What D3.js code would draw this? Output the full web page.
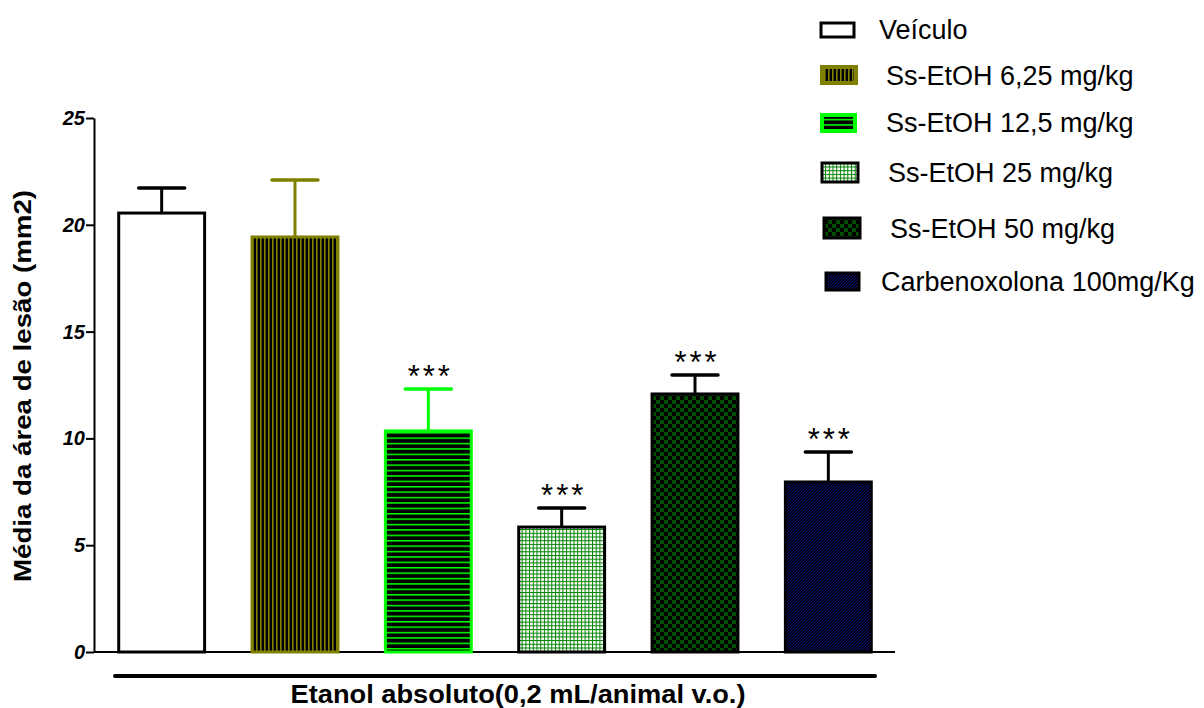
<!DOCTYPE html>
<html>
<head>
<meta charset="utf-8">
<script src="https://cdn.jsdelivr.net/npm/d3@7"></script>
<style>
  html, body { margin: 0; padding: 0; background: #fff; }
  svg { display: block; font-family: "Liberation Sans", Arial, Helvetica, sans-serif; }
</style>
</head>
<body>
<svg id="chart" width="1204" height="708"></svg>
<script>
// Groups, means and SEM of the lesion area (mm2)
const groups = ["Veículo", "Ss-EtOH 6,25 mg/kg", "Ss-EtOH 12,5 mg/kg", "Ss-EtOH 25 mg/kg", "Ss-EtOH 50 mg/kg", "Carbenoxolona 100mg/Kg"];
const means = [20.55, 19.43, 10.35, 5.85, 12.08, 7.96];
const sem = [1.17, 2.67, 1.96, 0.89, 0.89, 1.40];
const significance = ["", "", "***", "***", "***", "***"];
const yTicks = [0, 5, 10, 15, 20, 25];

// Visual style for each group: fill pattern id and outline colour
const fills = ["#ffffff", "url(#p625)", "url(#p125)", "url(#p25)", "url(#p50)", "url(#p100)"];
const strokes = ["#000000", "#808000", "#00ff00", "#000000", "#000000", "#000000"];

const svg = d3.select("#chart");
const defs = svg.append("defs");

// vertical olive stripes on black
const p1 = defs.append("pattern").attr("id", "p625").attr("patternUnits", "userSpaceOnUse")
  .attr("width", 4).attr("height", 4);
p1.append("rect").attr("width", 4).attr("height", 4).attr("fill", "#000");
p1.append("rect").attr("x", 0).attr("width", 1.6).attr("height", 4).attr("fill", "#808000");

// horizontal bright-green lines on black
const p2 = defs.append("pattern").attr("id", "p125").attr("patternUnits", "userSpaceOnUse")
  .attr("width", 6).attr("height", 5.4);
p2.append("rect").attr("width", 6).attr("height", 5.4).attr("fill", "#000");
p2.append("rect").attr("y", 0).attr("width", 6).attr("height", 1.5).attr("fill", "#00ff00");

// green grid on white
const p3 = defs.append("pattern").attr("id", "p25").attr("patternUnits", "userSpaceOnUse")
  .attr("width", 3.7).attr("height", 3.7);
p3.append("rect").attr("width", 3.7).attr("height", 3.7).attr("fill", "#fff");
p3.append("rect").attr("width", 3.7).attr("height", 1).attr("fill", "#008000");
p3.append("rect").attr("width", 1).attr("height", 3.7).attr("fill", "#008000");

// dark-green checkerboard on black
const p4 = defs.append("pattern").attr("id", "p50").attr("patternUnits", "userSpaceOnUse")
  .attr("width", 8).attr("height", 8);
p4.append("rect").attr("width", 8).attr("height", 8).attr("fill", "#000");
p4.append("rect").attr("width", 4).attr("height", 4).attr("fill", "#004f00");
p4.append("rect").attr("x", 4).attr("y", 4).attr("width", 4).attr("height", 4).attr("fill", "#004f00");

// fine navy diagonal hatch on black
const p5 = defs.append("pattern").attr("id", "p100").attr("patternUnits", "userSpaceOnUse")
  .attr("width", 3).attr("height", 3);
p5.append("rect").attr("width", 3).attr("height", 3).attr("fill", "#00000c");
p5.append("path").attr("d", "M-1,1 L1,-1 M0,3 L3,0 M2,4 L4,2").attr("stroke", "#141480").attr("stroke-width", 1);

// scales
const x = d3.scaleBand().domain(groups).range([95, 895]).paddingInner(1 / 3).paddingOuter(1 / 6);
const y = d3.scaleLinear().domain([0, 25]).range([652, 118]);

// y axis
const yAxis = svg.append("g").attr("transform", "translate(94,0)")
  .call(d3.axisLeft(y).tickValues(yTicks).tickSize(8).tickSizeOuter(0).tickPadding(1));
yAxis.attr("font-size", null).attr("font-family", null);
yAxis.select(".domain").attr("stroke", "#000").attr("stroke-width", 2);
yAxis.selectAll(".tick line").attr("stroke", "#000").attr("stroke-width", 2);
yAxis.selectAll(".tick text")
  .attr("fill", "#000")
  .style("font-family", "'Liberation Sans', Arial, sans-serif")
  .style("font-size", "20px").style("font-weight", "bold").style("font-style", "italic");

// x baseline
svg.append("line").attr("x1", 94).attr("x2", 895).attr("y1", y(0)).attr("y2", y(0))
  .attr("stroke", "#000").attr("stroke-width", 2);

// error bars (upper SEM)
const bw = x.bandwidth();
const err = svg.append("g");
groups.forEach((g, i) => {
  const cx = x(g) + bw / 2;
  const top = y(means[i] + sem[i]);
  err.append("line").attr("x1", cx).attr("x2", cx).attr("y1", y(means[i])).attr("y2", top)
    .attr("stroke", strokes[i]).attr("stroke-width", 3);
  err.append("line").attr("x1", cx - 23).attr("x2", cx + 23).attr("y1", top).attr("y2", top)
    .attr("stroke", strokes[i]).attr("stroke-width", 3.5).attr("stroke-linecap", "round");
});

// bars
svg.append("g").selectAll("rect").data(groups).join("rect")
  .attr("x", d => x(d) + 1.5)
  .attr("y", (d, i) => y(means[i]))
  .attr("width", bw - 3)
  .attr("height", (d, i) => y(0) - y(means[i]))
  .attr("fill", (d, i) => fills[i])
  .attr("stroke", (d, i) => strokes[i])
  .attr("stroke-width", 3);

// significance marks
svg.append("g").selectAll("text").data(groups).join("text")
  .attr("x", d => x(d) + bw / 2 + 2)
  .attr("y", (d, i) => y(means[i] + sem[i]) - 2)
  .attr("text-anchor", "middle")
  .style("font-size", "31px")
  .style("letter-spacing", "3px")
  .attr("fill", "#000")
  .text((d, i) => significance[i]);

// group bracket under the axis
svg.append("line").attr("x1", 115).attr("x2", 875).attr("y1", 676).attr("y2", 676)
  .attr("stroke", "#000").attr("stroke-width", 4).attr("stroke-linecap", "round");

// axis titles
svg.append("text").attr("x", 518).attr("y", 703).attr("text-anchor", "middle")
  .style("font-size", "26px").style("font-weight", "bold")
  .attr("textLength", 455).attr("lengthAdjust", "spacingAndGlyphs")
  .text("Etanol absoluto(0,2 mL/animal v.o.)");

svg.append("text").attr("transform", "translate(31,386) rotate(-90)").attr("text-anchor", "middle")
  .style("font-size", "24px").style("font-weight", "bold")
  .attr("textLength", 392).attr("lengthAdjust", "spacingAndGlyphs")
  .text("Média da área de lesão (mm2)");

// legend
const legendBoxes = [
  { x: 821, y: 23, w: 33, h: 14 },
  { x: 822, y: 67, w: 34, h: 16 },
  { x: 822, y: 115, w: 33, h: 16 },
  { x: 822, y: 163, w: 36, h: 19 },
  { x: 824, y: 218, w: 36, h: 20 },
  { x: 826, y: 273, w: 33, h: 17 }
];
const legendText = [
  { x: 879, y: 39 }, { x: 886, y: 85 }, { x: 886, y: 132 },
  { x: 888, y: 182 }, { x: 890, y: 238 }, { x: 881, y: 291 }
];
const legend = svg.append("g");
groups.forEach((g, i) => {
  const b = legendBoxes[i];
  legend.append("rect").attr("x", b.x).attr("y", b.y).attr("width", b.w).attr("height", b.h)
    .attr("fill", fills[i])
    .attr("stroke", i === 1 ? "#808000" : (i === 2 ? "#00ff00" : "#000"))
    .attr("stroke-width", i === 1 || i === 2 ? 4 : 3);
  legend.append("text").attr("x", legendText[i].x).attr("y", legendText[i].y)
    .style("font-size", "27px").attr("fill", "#000").text(g);
});
</script>
</body>
</html>
